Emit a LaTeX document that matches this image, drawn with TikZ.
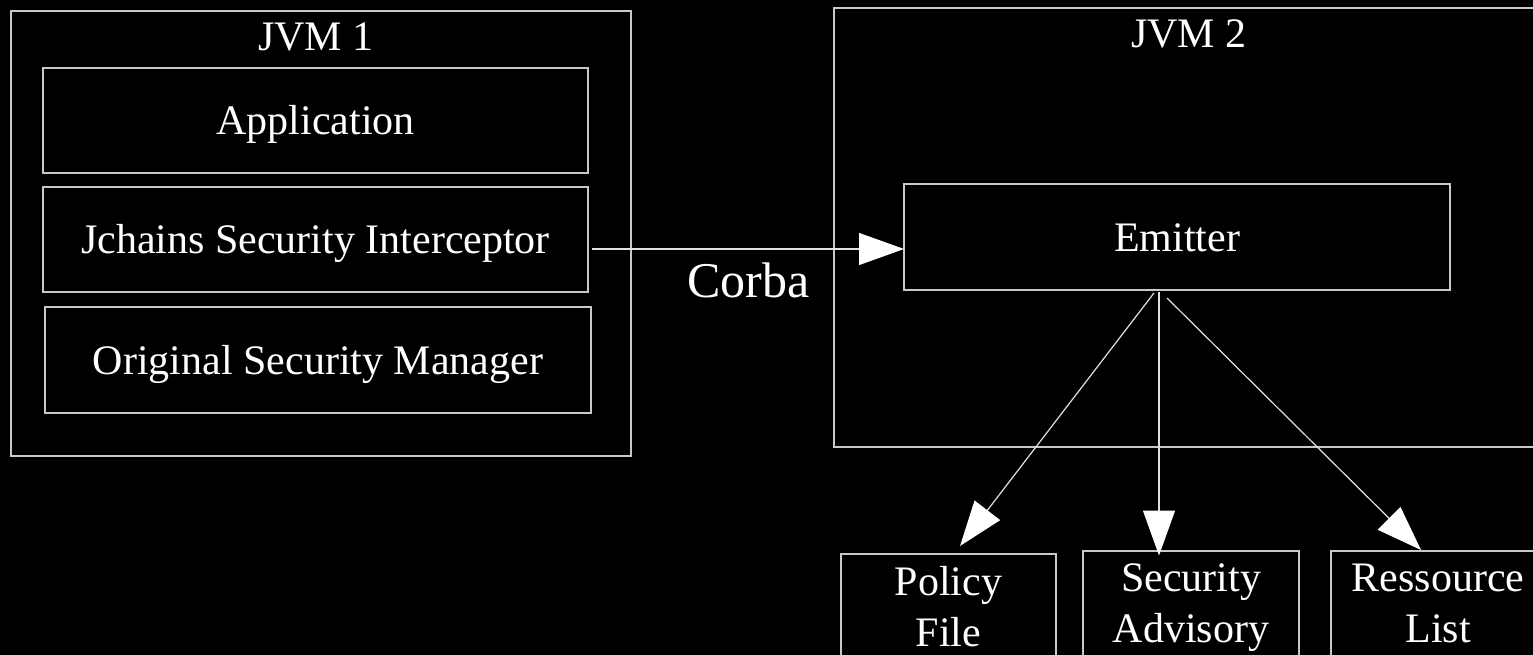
\documentclass[tikz,border=0pt]{standalone}
\usepackage{fontspec}
\setmainfont{Liberation Serif}
\usetikzlibrary{arrows.meta}
\definecolor{boxline}{RGB}{200,200,200}
\definecolor{conline}{RGB}{225,225,225}
\begin{document}
\begin{tikzpicture}[x=1pt,y=-1pt,
  box/.style={draw=boxline, line width=1.6pt, inner sep=0pt, outer sep=0pt, text=white,
    font=\fontsize{42}{51}\selectfont, text height=28pt, text depth=0pt},
  mbox/.style={draw=boxline, line width=1.6pt, inner sep=0pt, outer sep=0pt, text=white,
    font=\fontsize{42}{51}\selectfont, align=center, text depth=0pt},
  lbl/.style={text=white, inner sep=0pt, anchor=base, font=\fontsize{42}{51}\selectfont},
  conn/.style={draw=conline, line width=1.2pt,
    -{Triangle[length=45pt,width=32pt,fill=white,color=white]}}]

\useasboundingbox (0,0) rectangle (1533,655);
\fill[black] (0,0) rectangle (1533,655);
\clip (0,0) rectangle (1533,655);

% JVM 1
\node[box, minimum width=620pt, minimum height=445pt] (jvm1) at (321,233.5) {};
\node[lbl] (jvm1lbl) at (316,50.5) {JVM 1};
\node[box, minimum width=545pt, minimum height=105pt] (app) at (315.5,120.5) {Application};
\node[box, minimum width=545pt, minimum height=105pt] (jsi) at (315.5,239.5) {Jchains Security Interceptor};
\node[box, minimum width=546pt, minimum height=106pt] (osm) at (318,360) {Original Security Manager};

% JVM 2
\node[box, minimum width=710pt, minimum height=439pt] (jvm2) at (1189,227.5) {};
\node[lbl] (jvm2lbl) at (1189,48) {JVM 2};
\node[box, minimum width=546pt, minimum height=106pt] (emit) at (1177,237) {Emitter};

% resources
\node[mbox, minimum width=215pt, minimum height=105pt] (pol) at (948.5,606.5) {Policy\\File};
\node[mbox, minimum width=216pt, minimum height=105pt] (adv) at (1191,603.5) {Security\\Advisory};
\node[mbox, minimum width=214pt, minimum height=105pt] (res) at (1438,603.5) {Ressource\\List};

% Corba label
\node[lbl, font=\fontsize{50}{60}\selectfont] (corba) at (748.5,297) {Corba};

% connectors
\draw[conn] ([shift={(4,9.5)}]jsi.east) -- ([shift={(0,12)}]emit.west);
\draw[conn] ([shift={(-23,3)}]emit.south) -- ([shift={(11.5,-8)}]pol.north);
\draw[conn] ([shift={(-18,2)}]emit.south) -- ([shift={(-32,4.5)}]adv.north);
\draw[conn] ([shift={(-10,8)}]emit.south) -- ([shift={(-17,-1)}]res.north);
\end{tikzpicture}
\end{document}
